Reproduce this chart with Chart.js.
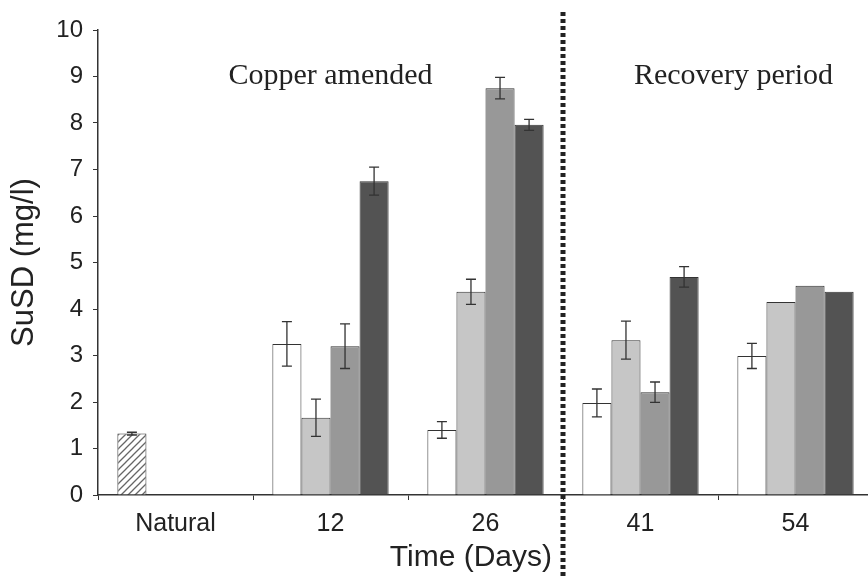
<!doctype html>
<html lang="en">
  <head>
    <meta charset="utf-8">
    <title>SuSD over time</title>
    <style>
      * { margin: 0; padding: 0; }
      body { background: #fff; overflow: hidden; }
      .chartBox { width: 873px; height: 578px; }
    </style>
  </head>
  <body>
    <div class="chartBox"><canvas id="myChart"></canvas></div>
    <script src="https://cdn.jsdelivr.net/npm/chart.js/dist/chart.umd.min.js"></script>
    <script>
    // setup
    const labels = ['Natural', '12', '26', '41', '54'];
    const seriesA = [1.32, 3.25, 1.40, 1.98, 2.99];
    const seriesB = [null, 1.66, 4.37, 3.33, 4.15];
    const seriesC = [null, 3.20, 8.75, 2.21, 4.50];
    const seriesD = [null, 6.75, 7.96, 4.69, 4.37];
    const errA = [0.03, 0.48, 0.18, 0.30, 0.27];
    const errB = [null, 0.40, 0.27, 0.41, 0];
    const errC = [null, 0.48, 0.23, 0.22, 0];
    const errD = [null, 0.30, 0.12, 0.22, 0];
    const errors = [errA, errB, errC, errD];

    // diagonal hatch for the natural bar
    function hatch() {
      const c = document.createElement('canvas');
      c.width = 7; c.height = 7;
      const g = c.getContext('2d');
      g.fillStyle = '#fff';
      g.fillRect(0, 0, 7, 7);
      g.strokeStyle = '#666';
      g.lineWidth = 1.3;
      g.beginPath();
      g.moveTo(-1, 8); g.lineTo(8, -1);
      g.moveTo(-4, 4); g.lineTo(4, -4);
      g.moveTo(3, 11); g.lineTo(11, 3);
      g.stroke();
      return g.createPattern(c, 'repeat');
    }

    const data = {
      labels,
      datasets: [
        { data: seriesA, backgroundColor: [hatch(), '#fff', '#fff', '#fff', '#fff'] },
        { data: seriesB, backgroundColor: '#c6c6c6' },
        { data: seriesC, backgroundColor: '#989898' },
        { data: seriesD, backgroundColor: '#535353' }
      ].map(d => Object.assign(d, {
        borderColor: '#333', borderWidth: 1,
        categoryPercentage: 0.75, barPercentage: 1.0
      }))
    };

    // error bars, period labels, x title and the dotted separator
    const extras = {
      id: 'extras',
      afterDatasetsDraw(chart) {
        const { ctx, scales: { x, y } } = chart;
        ctx.save();
        ctx.strokeStyle = '#333';
        ctx.lineWidth = 1.3;
        errors.forEach((errs, di) => {
          const meta = chart.getDatasetMeta(di);
          meta.data.forEach((bar, i) => {
            const v = data.datasets[di].data[i];
            const e = errs[i];
            if (v == null || !e) return;
            const top = y.getPixelForValue(v + e);
            const bot = y.getPixelForValue(v - e);
            ctx.beginPath();
            ctx.moveTo(bar.x, top); ctx.lineTo(bar.x, bot);
            ctx.moveTo(bar.x - 5, top); ctx.lineTo(bar.x + 5, top);
            ctx.moveTo(bar.x - 5, bot); ctx.lineTo(bar.x + 5, bot);
            ctx.stroke();
          });
        });

        const sx = x.getPixelForValue(2.5);
        ctx.strokeStyle = '#222';
        ctx.lineWidth = 5;
        ctx.setLineDash([4, 3]);
        ctx.beginPath();
        ctx.moveTo(sx, 12);
        ctx.lineTo(sx, 578);
        ctx.stroke();
        ctx.setLineDash([]);

        ctx.fillStyle = '#222';
        ctx.font = '30px "Liberation Serif"';
        ctx.textAlign = 'center';
        ctx.textBaseline = 'middle';
        ctx.fillText('Copper amended', x.getPixelForValue(1), y.getPixelForValue(9));
        ctx.fillText('Recovery period', x.getPixelForValue(3.6), y.getPixelForValue(9));

        ctx.font = '30px "Liberation Sans"';
        ctx.textAlign = 'right';
        ctx.fillText('Time (Days)', sx - 11, 558);
        ctx.restore();
      }
    };

    // config
    const config = {
      type: 'bar',
      data,
      plugins: [extras],
      options: {
        responsive: true,
        maintainAspectRatio: false,
        animation: false,
        layout: { padding: { top: 30, right: 0, left: 0, bottom: 0 } },
        plugins: { legend: { display: false }, tooltip: { enabled: false } },
        scales: {
          x: {
            afterFit(s) { s.height = 83; },
            grid: { display: true, drawOnChartArea: false, offset: true, tickLength: 5, color: '#333' },
            border: { color: '#333', width: 1.5 },
            ticks: { color: '#222', padding: 9, font: { family: 'Liberation Sans', size: 25 } }
          },
          y: {
            min: 0, max: 10,
            afterFit(s) { s.width = 98; },
            grid: { display: true, drawOnChartArea: false, tickLength: 5, color: '#333' },
            border: { color: '#333', width: 1.5 },
            ticks: { stepSize: 1, color: '#222', padding: 10, font: { family: 'Liberation Sans', size: 24 } },
            title: {
              display: true, text: 'SuSD (mg/l)', color: '#222',
              padding: { top: 6, bottom: 0 },
              font: { family: 'Liberation Sans', size: 31 }
            }
          }
        }
      }
    };

    const myChart = new Chart(document.getElementById('myChart'), config);
    </script>
  </body>
</html>
